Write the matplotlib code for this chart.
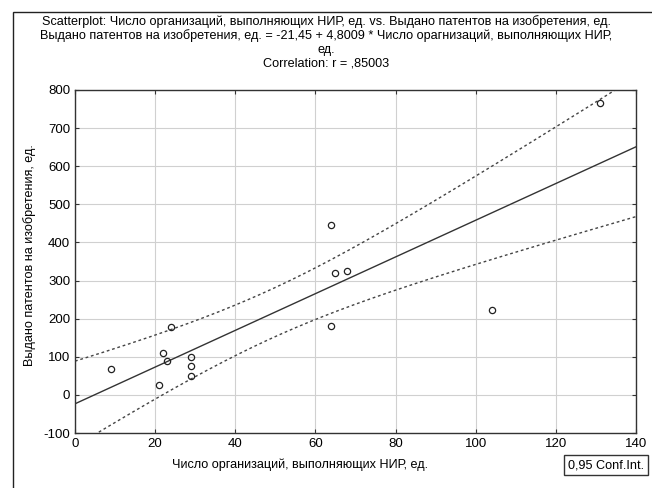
import numpy as np
import matplotlib
matplotlib.use("Agg")
import matplotlib.pyplot as plt
from matplotlib.patches import Rectangle

plt.rcParams['font.family'] = ['Liberation Sans', 'DejaVu Sans']
plt.rcParams['axes.unicode_minus'] = False

# data
organizations = [9, 21, 22, 23, 24, 29, 29, 29, 64, 64, 65, 68, 104, 131]
patents = [67, 25, 110, 88, 178, 100, 77, 50, 445, 182, 320, 325, 224, 767]

title_lines = [
    "Scatterplot: Число организаций, выполняющих НИР, ед. vs. Выдано патентов на изобретения, ед.",
    "Выдано патентов на изобретения, ед. = -21,45 + 4,8009 * Число орагнизаций, выполняющих НИР,",
    "ед.",
    "Correlation: r = ,85003",
]
x_label = "Число организаций, выполняющих НИР, ед."
y_label = "Выдано патентов на изобретения, ед."
x_ticks = [0, 20, 40, 60, 80, 100, 120, 140]
y_ticks = [-100, 0, 100, 200, 300, 400, 500, 600, 700, 800]

x = np.array(organizations, dtype=float)
y = np.array(patents, dtype=float)

# least squares fit and 95% confidence band for the mean
b, a = np.polyfit(x, y, 1)
n = len(x)
resid = y - (a + b * x)
s = np.sqrt(np.sum(resid ** 2) / (n - 2))
sxx = np.sum((x - x.mean()) ** 2)
t_crit = 2.1788  # t(0.975, df=12)
xs = np.linspace(0, 140, 200)
fit = a + b * xs
half = t_crit * s * np.sqrt(1 / n + (xs - x.mean()) ** 2 / sxx)

fig = plt.figure(figsize=(6.52, 4.88), dpi=100)
ax = fig.add_axes([75 / 652, 1 - 433 / 488, (636 - 75) / 652, (433 - 90) / 488])

ax.plot(xs, fit, color='#333333', lw=1.0)
ax.plot(xs, fit + half, color='#444444', lw=1.0, ls=(0, (2, 2)))
ax.plot(xs, fit - half, color='#444444', lw=1.0, ls=(0, (2, 2)))
ax.plot(x, y, 'o', mfc='none', mec='#222222', ms=4.5, mew=0.9)

ax.set_xlim(0, 140)
ax.set_ylim(-100, 800)
ax.set_xticks(x_ticks)
ax.set_yticks(y_ticks)
ax.grid(True, color='#d0d0d0', lw=0.8)
ax.set_axisbelow(True)
ax.tick_params(direction='in', length=3, labelsize=9.5, top=True, right=True, color='#333333')
for sp in ax.spines.values():
    sp.set_color('#333333')
    sp.set_linewidth(1.0)

for i, line in enumerate(title_lines):
    fig.text(0.5, 1 - (22 + 14 * i) / 488, line, ha='center', va='center', fontsize=9.1)

fig.text(300 / 652, 1 - 465 / 488, x_label, ha='center', va='center', fontsize=9.1)
fig.text(30 / 652, 1 - 255 / 488, y_label, ha='center', va='center', rotation=90, fontsize=9.1)

fig.text(606 / 652, 1 - 465 / 488, "0,95 Conf.Int.", ha='center', va='center', fontsize=9.1,
         bbox=dict(boxstyle='square,pad=0.3', fc='white', ec='#333333', lw=1.0))

# outer frame
fig.patches.append(Rectangle((13 / 652, -0.05), 1.2, 1 - 12 / 488 + 0.05, transform=fig.transFigure,
                             fill=False, ec='#222222', lw=1.0))

fig.savefig("out.png", dpi=100)
